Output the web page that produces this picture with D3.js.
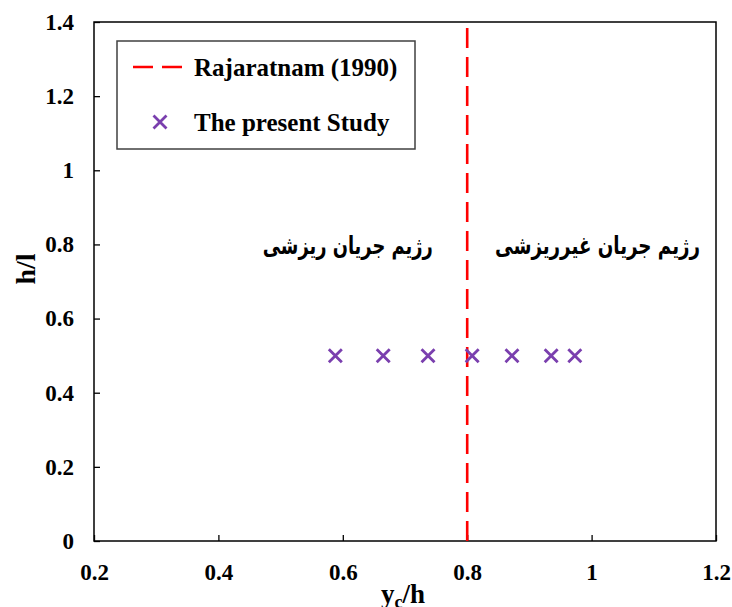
<!DOCTYPE html>
<html><head><meta charset="utf-8">
<script src="https://cdn.jsdelivr.net/npm/d3@7/dist/d3.min.js"></script>
<style>body{margin:0;background:#fff}svg{display:block}</style>
</head><body>
<svg id="c" width="732" height="607"></svg>
<script>
const xTicks = [0.2, 0.4, 0.6, 0.8, 1, 1.2];
const yTicks = [0, 0.2, 0.4, 0.6, 0.8, 1, 1.2, 1.4];
const studyX = [0.588, 0.665, 0.737, 0.808, 0.872, 0.935, 0.973];
const studyY = [0.5, 0.5, 0.5, 0.5, 0.5, 0.5, 0.5];
const rajaratnamX = [0.8, 0.8];
const rajaratnamY = [0, 1.4];
const legendLabels = ["Rajaratnam (1990)", "The present Study"];
const regimeLabels = ["رژیم جریان ریزشی", "رژیم جریان غیرریزشی"];
const regimeX = [0.608, 1.0095];
const regimeY = [0.775, 0.775];

const svg = d3.select("#c");
const L = 94, R = 716, T = 22, B = 541;
const x = d3.scaleLinear().domain([0.2, 1.2]).range([L, R]);
const y = d3.scaleLinear().domain([0, 1.4]).range([B, T]);
const serif = "'Liberation Serif','Times New Roman',serif";

// axes
const xAxis = svg.append("g").attr("transform", `translate(0,${B})`)
  .call(d3.axisBottom(x).tickValues(xTicks).tickSizeInner(-6).tickSizeOuter(0).tickPadding(23).tickFormat(d3.format("")));
const yAxis = svg.append("g").attr("transform", `translate(${L},0)`)
  .call(d3.axisLeft(y).tickValues(yTicks).tickSizeInner(-6).tickSizeOuter(0).tickPadding(20).tickFormat(d3.format("")));
[xAxis, yAxis].forEach(g => {
  g.select(".domain").remove();
  g.selectAll(".tick line").attr("stroke", "#000").attr("stroke-width", 1.3);
  g.selectAll(".tick text").attr("font-family", serif).attr("font-weight", "bold")
    .attr("font-size", 23).attr("fill", "#000");
});
// frame
svg.append("rect").attr("x", L).attr("y", T).attr("width", R - L).attr("height", B - T)
  .attr("fill", "none").attr("stroke", "#000").attr("stroke-width", 1.5);

// red dashed line
svg.append("path").datum(rajaratnamX.map((v, i) => [v, rajaratnamY[i]]))
  .attr("d", d3.line().x(d => x(d[0])).y(d => y(d[1])))
  .attr("stroke", "#FF0000").attr("stroke-width", 2.6).attr("stroke-dasharray", "20,9").attr("fill", "none");

// markers
const purple = "#7A3FAE";
const s = 6.5;
svg.append("g").selectAll("path").data(studyX.map((v, i) => [v, studyY[i]])).join("path")
  .attr("d", d => { const cx = x(d[0]), cy = y(d[1]);
    return `M${cx - s},${cy - s}L${cx + s},${cy + s}M${cx - s},${cy + s}L${cx + s},${cy - s}`; })
  .attr("stroke", purple).attr("stroke-width", 2.8).attr("fill", "none");

// regime labels
const regimeWidths = [170, 205];
svg.append("g").selectAll("text").data(regimeLabels).join("text")
  .attr("x", (d, i) => x(regimeX[i]) - regimeWidths[i] / 2).attr("y", (d, i) => y(regimeY[i]))
  .attr("textLength", (d, i) => regimeWidths[i]).attr("lengthAdjust", "spacingAndGlyphs")
  .attr("font-family", "'DejaVu Sans',sans-serif").attr("font-weight", "bold").attr("font-size", 24.5)
  .attr("fill", "#000").text(d => d);

// legend
svg.append("rect").attr("x", 117).attr("y", 41).attr("width", 298).attr("height", 108)
  .attr("fill", "#fff").attr("stroke", "#404040").attr("stroke-width", 1.5);
svg.append("line").attr("x1", 133).attr("x2", 183).attr("y1", 67).attr("y2", 67)
  .attr("stroke", "#FF0000").attr("stroke-width", 2.6).attr("stroke-dasharray", "20,9");
svg.append("path").attr("d", `M${160 - s},${122 - s}L${160 + s},${122 + s}M${160 - s},${122 + s}L${160 + s},${122 - s}`)
  .attr("stroke", purple).attr("stroke-width", 2.8);
svg.append("g").selectAll("text").data(legendLabels).join("text")
  .attr("x", 194).attr("y", (d, i) => [76, 131][i])
  .attr("font-family", serif).attr("font-weight", "bold").attr("font-size", 25).attr("fill", "#000")
  .text(d => d);

// axis titles
const xt = svg.append("text").attr("x", 403).attr("y", 603).attr("text-anchor", "middle")
  .attr("font-family", serif).attr("font-weight", "bold").attr("font-size", 27).attr("fill", "#000");
xt.append("tspan").text("y");
xt.append("tspan").attr("font-size", 18).attr("dy", 5).text("c");
xt.append("tspan").attr("dy", -5).text("/h");
svg.append("text").attr("transform", "translate(35,269) rotate(-90)").attr("text-anchor", "middle")
  .attr("font-family", serif).attr("font-weight", "bold").attr("font-size", 28).attr("fill", "#000")
  .text("h/l");
</script>
</body></html>
